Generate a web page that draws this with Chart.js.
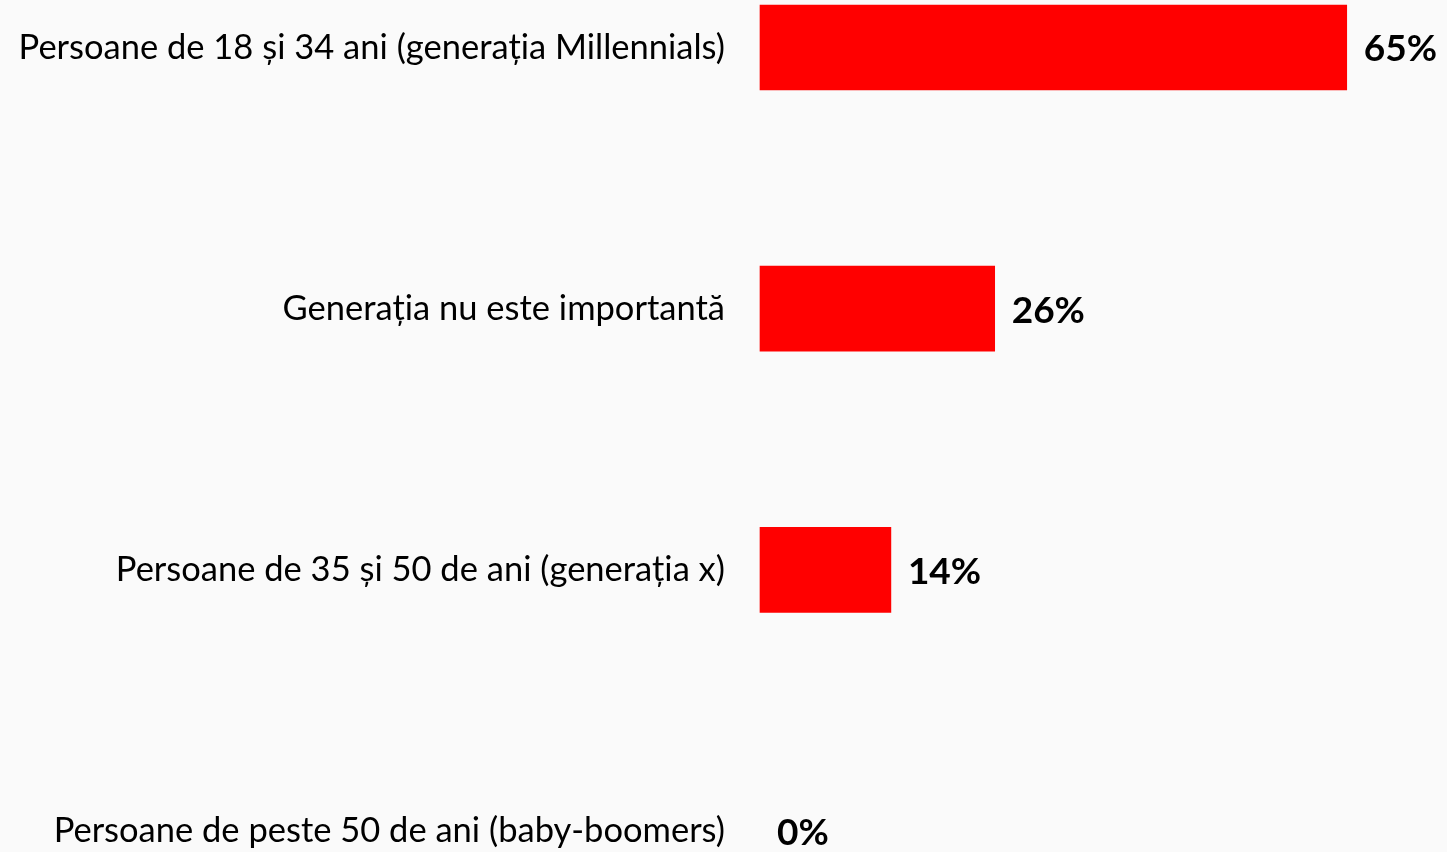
<!DOCTYPE html>
<html>
<head>
<meta charset="utf-8">
<script src="https://cdn.jsdelivr.net/npm/chart.js@4/dist/chart.umd.min.js"></script>
<style>
  html, body { margin: 0; padding: 0; background: #fafafa; }
  #wrap { width: 1447px; height: 852px; position: relative; }
</style>
</head>
<body>
<div id="wrap"><canvas id="chart"></canvas></div>
<script>
const categories = [
    'Persoane de 18 și 34 ani (generația Millennials)',
    'Generația nu este importantă',
    'Persoane de 35 și 50 de ani (generația x)',
    'Persoane de peste 50 de ani (baby-boomers)'
];
const values = [65, 26, 14.5, 0];
const valueLabels = ['65%', '26%', '14%', '0%'];

// draws the bold percent next to each bar
const valueLabelPlugin = {
    id: 'valueLabels',
    afterDatasetsDraw(chart) {
        const ctx = chart.ctx;
        const meta = chart.getDatasetMeta(0);
        ctx.save();
        ctx.font = 'bold 37px Lato';
        ctx.fillStyle = '#000';
        ctx.textAlign = 'left';
        ctx.textBaseline = 'middle';
        meta.data.forEach((bar, i) => {
            ctx.fillText(valueLabels[i], bar.x + 17, bar.y + 2);
        });
        ctx.restore();
    }
};

new Chart(document.getElementById('chart'), {
    type: 'bar',
    data: {
        labels: categories,
        datasets: [{
            data: values,
            backgroundColor: c => c.raw === 0 ? 'rgba(0,0,0,0)' : '#ff0000',
            barThickness: 85,
            clip: false
        }]
    },
    options: {
        indexAxis: 'y',
        responsive: true,
        maintainAspectRatio: false,
        animation: false,
        layout: { padding: { top: 47.5, bottom: 21, left: 0, right: 10 } },
        plugins: {
            legend: { display: false },
            tooltip: { enabled: false }
        },
        scales: {
            x: {
                display: false,
                min: 0,
                max: 75
            },
            y: {
                offset: false,
                grid: { display: false, drawTicks: false },
                border: { display: false },
                ticks: {
                    padding: 35,
                    color: '#000',
                    font: { family: 'Lato', size: 34.5 }
                },
                afterFit(scale) {
                    scale.width = 760;
                    scale.paddingTop = 0;
                    scale.paddingBottom = 0;
                }
            }
        }
    },
    plugins: [valueLabelPlugin]
});
</script>
</body>
</html>
